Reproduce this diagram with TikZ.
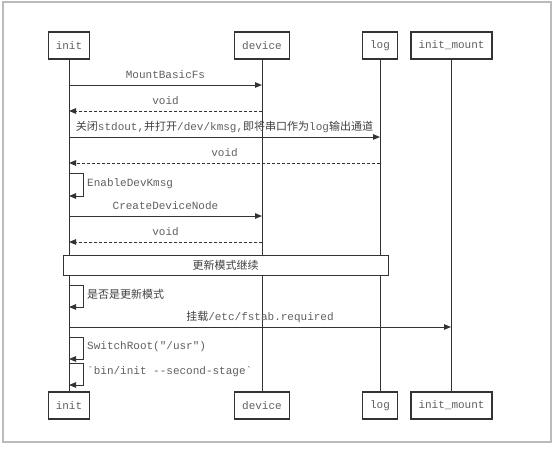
\documentclass[tikz,border=0pt]{standalone}
\usepackage{fontspec}
\setmonofont{Liberation Mono}
\newfontfamily\cjk{Noto Sans CJK SC}
\usetikzlibrary{arrows.meta}
\definecolor{ln}{HTML}{333333}
\definecolor{tx}{HTML}{606060}
\definecolor{cj}{HTML}{404040}
\definecolor{fr}{HTML}{BBBBBB}
\begin{document}
\begin{tikzpicture}[x=1pt,y=-1pt,
  every node/.style={font=\ttfamily\fontsize{11}{13}\selectfont, text=tx},
  actor/.style={draw=ln, line width=1.3pt, fill=white, minimum height=27pt, inner xsep=7.5pt},
  life/.style={draw=ln, line width=1pt},
  msg/.style={draw=ln, line width=1pt, -{Triangle[length=7pt,width=5.5pt]}},
  ret/.style={msg, dash pattern=on 3pt off 2pt},
  lbl/.style={inner sep=0pt},
  sel/.style={inner sep=0pt, anchor=west},
  groupbox/.style={draw=ln, line width=0.8pt, fill=white, minimum width=325pt, minimum height=20pt, inner sep=0pt}]
\useasboundingbox (0,0) rectangle (554,448);
\fill[white] (0,0) rectangle (554,448);
\draw[fr, line width=1.2pt] (3,2) rectangle (551,442);

% actors
\node[actor] (initT) at (69,45.5) {init};
\node[actor] (devT) at (262,45.5) {device};
\node[actor] (logT) at (380,45.5) {log};
\node[actor] (mntT) at (451.5,45.5) {init\_mount};
\node[actor] (initB) at (69,405.5) {init};
\node[actor] (devB) at (262,405.5) {device};
\node[actor] (logB) at (380,405.5) {log};
\node[actor] (mntB) at (451.5,405.5) {init\_mount};

\draw[life] (initT.south) -- (initB.north);
\draw[life] (devT.south) -- (devB.north);
\draw[life] (logT.south) -- (logB.north);
\draw[life] (451,59) -- (451,392);

% message end points
\coordinate (a1) at (69,85);  \coordinate (b1) at (262,85);
\coordinate (a2) at (69,111); \coordinate (b2) at (262,111);
\coordinate (a3) at (69,137); \coordinate (b3) at (380,137);
\coordinate (a4) at (69,163); \coordinate (b4) at (380,163);
\coordinate (s5a) at (69,173); \coordinate (s5b) at (69,196);
\coordinate (a6) at (69,216); \coordinate (b6) at (262,216);
\coordinate (a7) at (69,242); \coordinate (b7) at (262,242);
\coordinate (s9a) at (69,285); \coordinate (s9b) at (69,307);
\coordinate (a10) at (69,327); \coordinate (b10) at (451,327);
\coordinate (s11a) at (69,337); \coordinate (s11b) at (69,359);
\coordinate (s12a) at (69,363); \coordinate (s12b) at (69,385);

\draw[msg] (a1) -- (b1) node[lbl, midway, yshift=10pt] {MountBasicFs};
\draw[ret] (b2) -- (a2) node[lbl, midway, yshift=10pt] {void};
\draw[msg] (a3) -- (b3) node[lbl, midway, yshift=10pt] {{\cjk\color{cj}关闭}stdout,{\cjk\color{cj}并打开}/dev/kmsg,{\cjk\color{cj}即将串口作为}log{\cjk\color{cj}输出通道}};
\draw[ret] (b4) -- (a4) node[lbl, midway, yshift=10pt] {void};
\draw[msg] (s5a) -- ++(14,0) |- (s5b);
\node[sel] (l5) at (87,184) {EnableDevKmsg};
\draw[msg] (a6) -- (b6) node[lbl, midway, yshift=10pt] {CreateDeviceNode};
\draw[ret] (b7) -- (a7) node[lbl, midway, yshift=10pt] {void};

\node[groupbox] (grp) at (225.5,265) {\cjk\color{cj}更新模式继续};

\draw[msg] (s9a) -- ++(14,0) |- (s9b);
\node[sel] (l9) at (87,294) {\cjk\color{cj}是否是更新模式};
\draw[msg] (a10) -- (b10) node[lbl, midway, yshift=10pt] {{\cjk\color{cj}挂载}/etc/fstab.required};
\draw[msg] (s11a) -- ++(14,0) |- (s11b);
\node[sel] (l11) at (87,347) {SwitchRoot("/usr")};
\draw[msg] (s12a) -- ++(14,0) |- (s12b);
\node[sel] (l12) at (87,372) {`bin/init --second-stage`};
\end{tikzpicture}
\end{document}
